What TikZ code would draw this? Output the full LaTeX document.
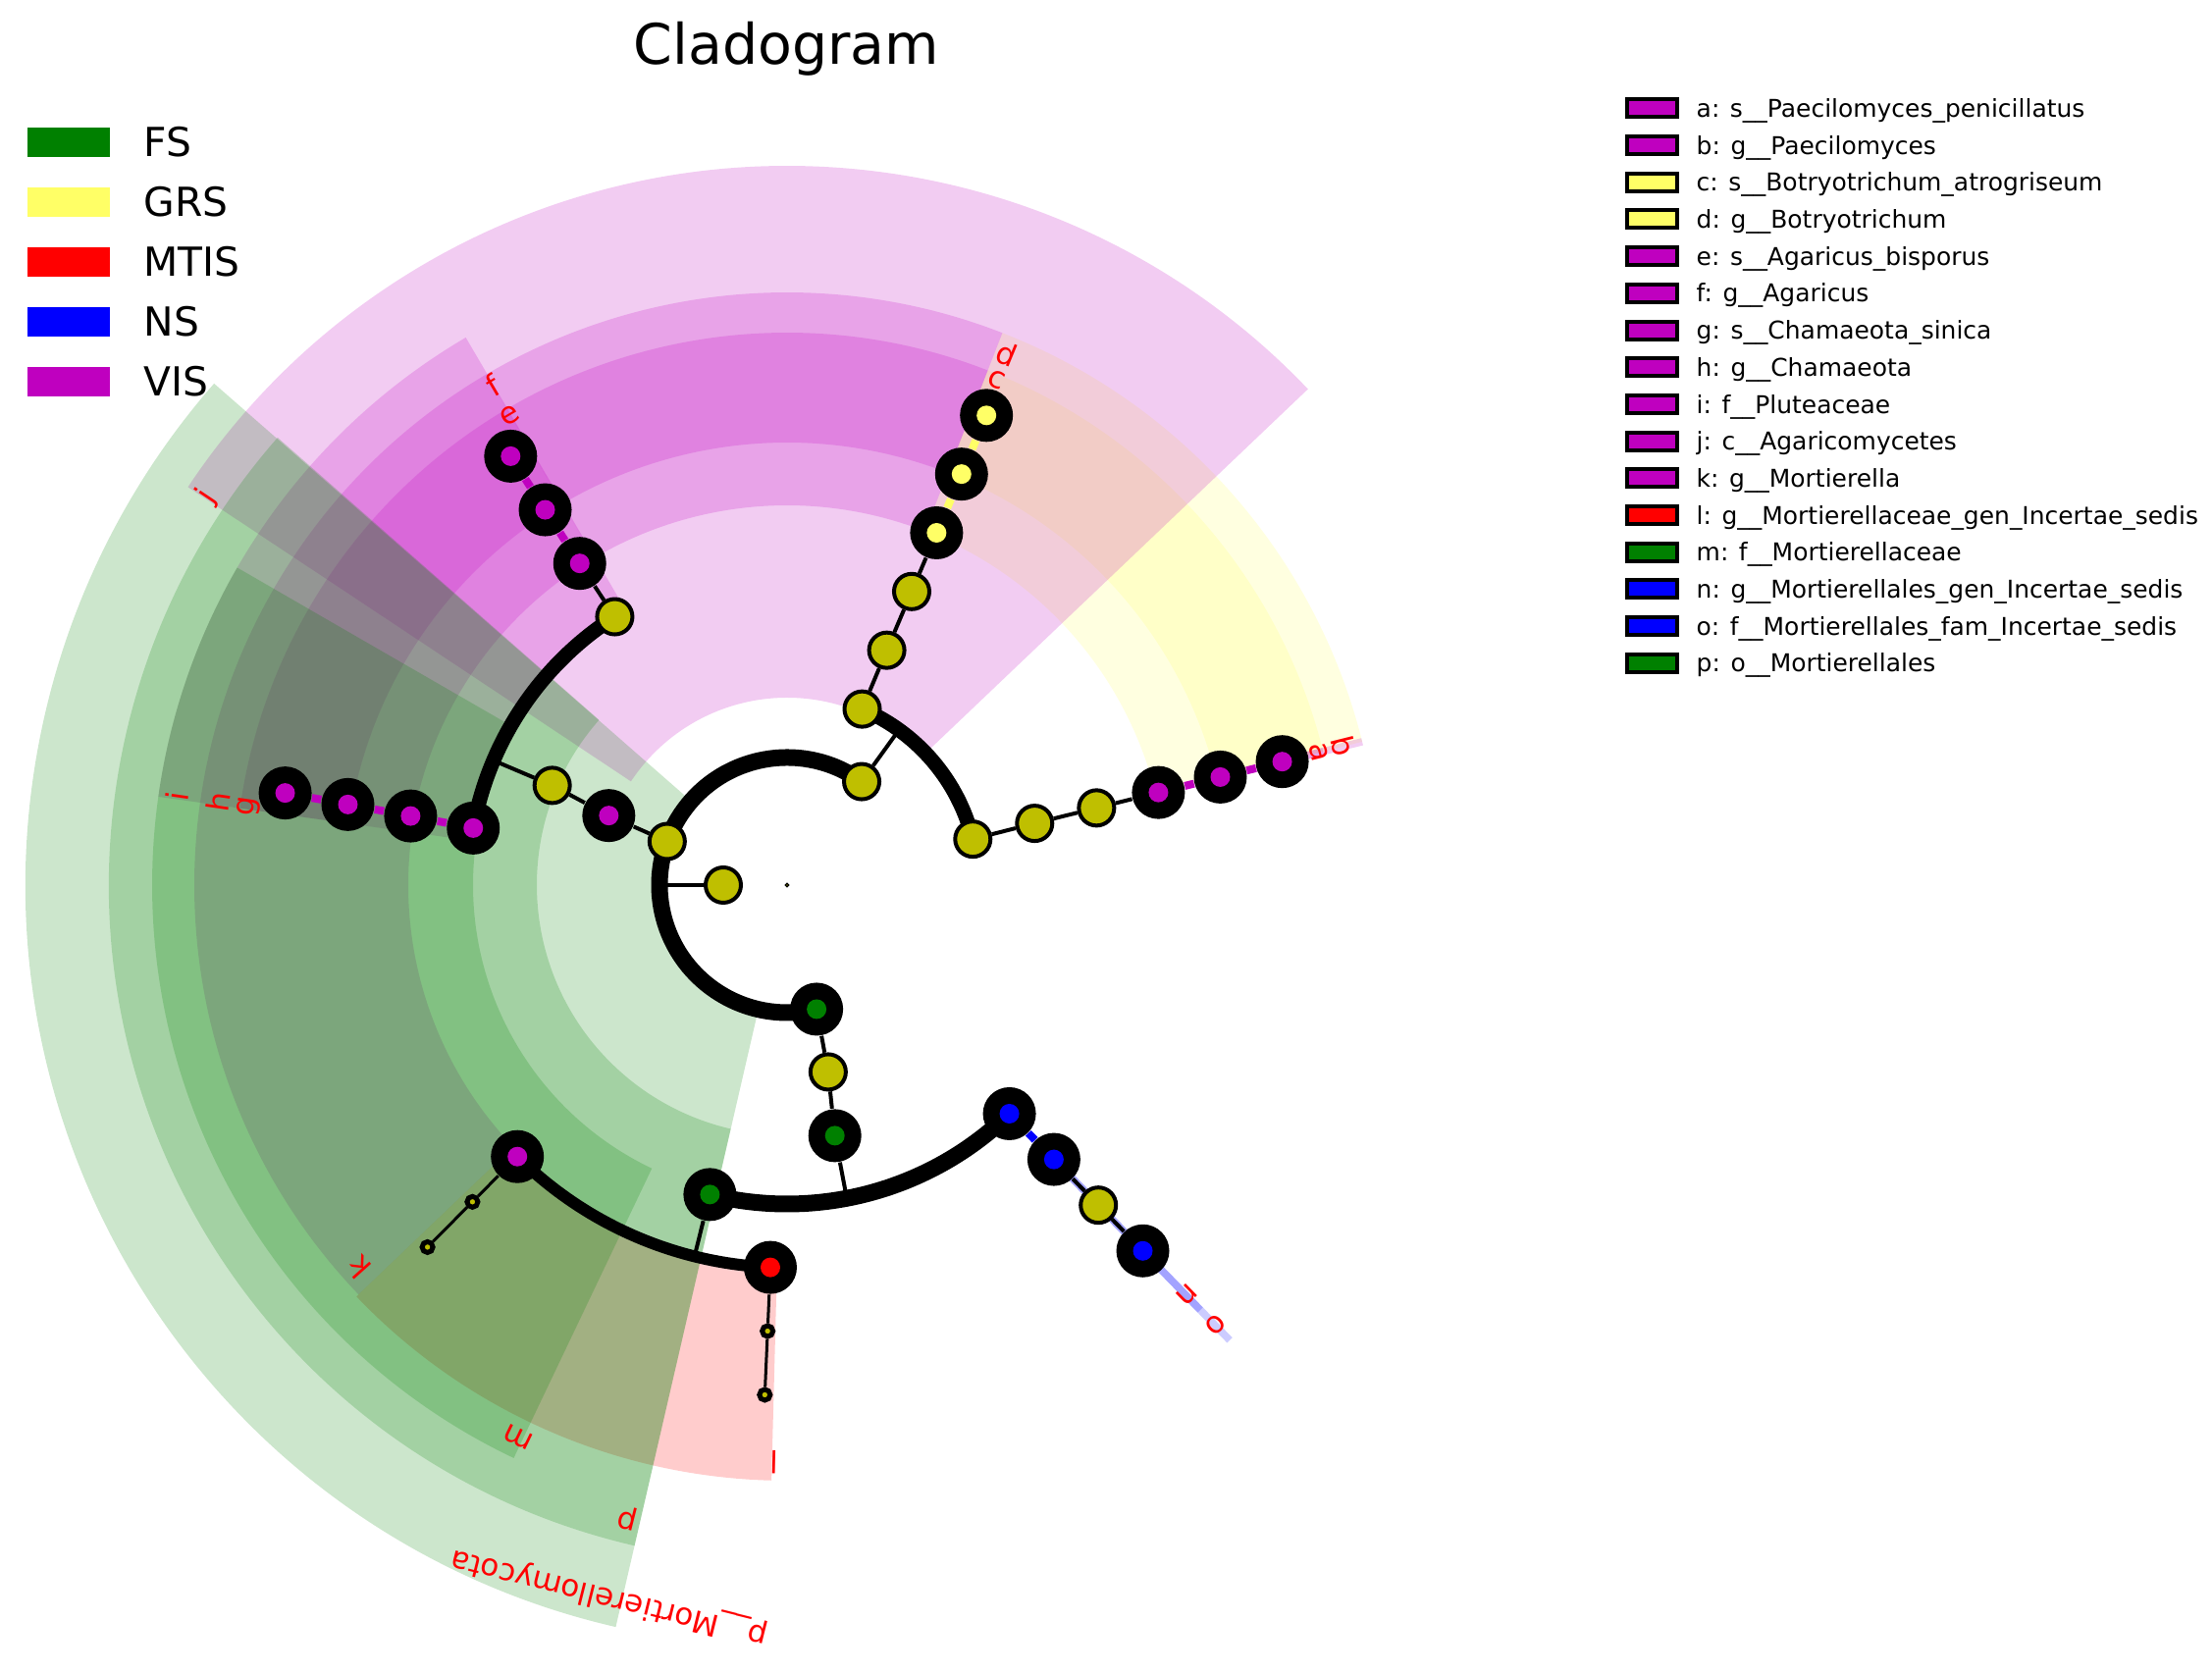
\documentclass[tikz,border=0pt]{standalone}
\usepackage{fontspec}
\setmainfont{DejaVu Sans}
\definecolor{FSc}{RGB}{0,128,0}
\definecolor{GRSc}{RGB}{255,255,102}
\definecolor{MTISc}{RGB}{255,0,0}
\definecolor{NSc}{RGB}{0,0,255}
\definecolor{VISc}{RGB}{191,0,191}
\definecolor{olivec}{RGB}{191,191,0}
\pgfdeclarelayer{wedges}
\pgfdeclarelayer{edges}
\pgfsetlayers{wedges,edges,main}
\newcommand{\cladewedge}[5]{%
  \fill[#5, fill opacity=0.2] (#1:#3) arc[start angle=#1, end angle=#2, radius=#3] -- (#2:#4) arc[start angle=#2, end angle=#1, radius=#4] -- cycle;}
\tikzset{
  plain/.style={circle, draw=black, fill=olivec, line width=0.04cm, minimum size=0.36cm, inner sep=0},
  hl/.style={circle, fill=black, minimum size=0.54cm, inner sep=0,
    path picture={\fill[#1] (path picture bounding box.center) circle (0.1cm);}},
  small/.style={circle, draw=black, fill=olivec, line width=0.05cm, minimum size=0.11cm, inner sep=0},
  rootdot/.style={circle, draw=black, fill=olivec, line width=0.012cm, minimum size=0.035cm, inner sep=0},
  thinedge/.style={line width=0.04cm, black},
  smalledge/.style={line width=0.03cm, black},
  coledge/.style={line width=0.08cm, #1},
  bigarc/.style={line width=#1, black},
  lab/.style={text=MTISc, inner sep=0, font=\fontsize{8.8}{10}\selectfont},
  narrow/.style={#1, draw opacity=0.2, line width=0.075cm}
}
\begin{document}
\begin{tikzpicture}
\useasboundingbox (0,0) rectangle (22.54,17.06);
% title
\node[anchor=base, inner sep=0, font=\fontsize{16.2}{19}\selectfont] (title) at (8.015,16.40) {Cladogram};
% left legend
\foreach \nm/\col [count=\i from 0] in {FS/FSc, GRS/GRSc, MTIS/MTISc, NS/NSc, VIS/VISc} {
  \node[fill=\col, minimum width=0.84cm, minimum height=0.30cm, inner sep=0] (lsw\i) at (0.70, {15.61-0.61*\i}) {};
  \node[anchor=base west, inner sep=0, font=\fontsize{11.6}{14}\selectfont] (ltx\i) at (1.46, {15.461-0.61*\i}) {\nm};
}
% right legend
\foreach \txt/\col [count=\i from 0] in {
  a: s\_\_Paecilomyces\_penicillatus/VISc,
  b: g\_\_Paecilomyces/VISc,
  c: s\_\_Botryotrichum\_atrogriseum/GRSc,
  d: g\_\_Botryotrichum/GRSc,
  e: s\_\_Agaricus\_bisporus/VISc,
  f: g\_\_Agaricus/VISc,
  g: s\_\_Chamaeota\_sinica/VISc,
  h: g\_\_Chamaeota/VISc,
  i: f\_\_Pluteaceae/VISc,
  j: c\_\_Agaricomycetes/VISc,
  k: g\_\_Mortierella/VISc,
  l: g\_\_Mortierellaceae\_gen\_Incertae\_sedis/MTISc,
  m: f\_\_Mortierellaceae/FSc,
  n: g\_\_Mortierellales\_gen\_Incertae\_sedis/NSc,
  o: f\_\_Mortierellales\_fam\_Incertae\_sedis/NSc,
  p: o\_\_Mortierellales/FSc} {
  \node[draw=black, line width=0.04cm, fill=\col, minimum width=0.51cm, minimum height=0.18cm, inner sep=0] (rsw\i) at (16.83, {15.956-0.377*\i}) {};
  \node[anchor=base west, inner sep=0, font=\fontsize{7.1}{9}\selectfont] (rtx\i) at (17.28, {15.865-0.377*\i}) {\txt};
}
\begin{scope}[shift={(8.02,8.04)}]
% ---------- wedges (yellow, magenta, red, blue first; green last) ----------
\begin{pgfonlayer}{wedges}
\cladewedge{14}{68.7}{3.87}{6.04}{GRSc}
\cladewedge{14}{68.7}{4.51}{5.63}{GRSc}
\cladewedge{43.6}{146.4}{1.91}{7.33}{VISc}
\cladewedge{120.4}{172}{3.20}{6.47}{VISc}
\cladewedge{120.5}{172}{3.87}{6.04}{VISc}
\cladewedge{120.5}{172}{4.51}{5.63}{VISc}
\cladewedge{68.7}{120.5}{3.87}{6.04}{VISc}
\cladewedge{68.7}{120.5}{4.51}{5.63}{VISc}
\cladewedge{172}{223.7}{3.86}{6.04}{VISc}
\draw[narrow=VISc] (14:3.87) -- (14:6.04);
\draw[narrow=VISc] (14:4.51) -- (14:5.63);
\cladewedge{223.7}{268.5}{3.88}{6.07}{MTISc}
\draw[narrow=NSc] (-45.8:3.20) -- (-45.8:6.47);
\draw[narrow=NSc] (-45.8:3.87) -- (-45.8:6.04);
\cladewedge{138.8}{257}{1.32}{7.76}{FSc}
\cladewedge{138.7}{257}{2.55}{6.91}{FSc}
\cladewedge{150}{244.5}{3.20}{6.47}{FSc}
\end{pgfonlayer}
% ---------- nodes ----------
\node[rootdot] (root) at (0,0) {};
\node[plain] (K) at (180:0.65) {};
\node[plain] (P1) at (160:1.30) {};
\node[plain] (P2) at (54.2:1.30) {};
\node[hl=FSc] (P3) at (-76.6:1.30) {};
% Ascomycota
\node[plain] (A1) at (66.9:1.95) {};
\node[plain] (A2) at (67:2.60) {};
\node[plain] (A3) at (67:3.25) {};
\node[hl=GRSc] (A4) at (67:3.90) {};
\node[hl=GRSc] (A5) at (67:4.55) {};
\node[hl=GRSc] (A6) at (67:5.20) {};
\node[plain] (B1) at (13.9:1.95) {};
\node[plain] (B2) at (14:2.60) {};
\node[plain] (B3) at (14:3.25) {};
\node[hl=VISc] (B4) at (14:3.90) {};
\node[hl=VISc] (B5) at (14:4.55) {};
\node[hl=VISc] (B6) at (14:5.20) {};
% Basidiomycota
\node[hl=VISc] (J) at (158.7:1.95) {};
\node[plain] (O1) at (157:2.60) {};
\node[plain] (F1) at (122.7:3.25) {};
\node[hl=VISc] (E1) at (122.8:3.90) {};
\node[hl=VISc] (E2) at (122.8:4.55) {};
\node[hl=VISc] (E3) at (122.8:5.20) {};
\node[hl=VISc] (I1) at (169.7:3.25) {};
\node[hl=VISc] (G1) at (169.6:3.90) {};
\node[hl=VISc] (G2) at (169.6:4.55) {};
\node[hl=VISc] (G3) at (169.6:5.20) {};
% Mortierellomycota
\node[plain] (C3) at (-77.6:1.95) {};
\node[hl=FSc] (Pp) at (-79.2:2.60) {};
\node[hl=FSc] (Mm) at (-104:3.25) {};
\node[hl=NSc] (Oo) at (-45.8:3.25) {};
\node[hl=VISc] (Kk) at (-134.8:3.90) {};
\node[hl=MTISc] (Ll) at (-92.5:3.90) {};
\node[small] (K2) at (-134.8:4.55) {};
\node[small] (K3) at (-134.8:5.20) {};
\node[small] (L2) at (-92.5:4.55) {};
\node[small] (L3) at (-92.5:5.20) {};
\node[hl=NSc] (Nn) at (-45.8:3.90) {};
\node[plain] (N2) at (-45.8:4.55) {};
\node[hl=NSc] (N3) at (-45.8:5.20) {};
% free ends of radial connectors
\coordinate (kend) at (180:1.30);
\coordinate (p2end) at (54.2:1.95);
\coordinate (o1end) at (157:3.25);
\coordinate (ppend) at (-79.2:3.25);
\coordinate (mmend) at (-104:3.90);
% ---------- edges ----------
\begin{pgfonlayer}{edges}
\draw[thinedge] (K) -- (kend);
\draw[bigarc=0.17cm] (54.2:1.30) arc[start angle=54.2, end angle=283.4, radius=1.30];
\draw[thinedge] (P2) -- (p2end);
\draw[bigarc=0.15cm] (13.9:1.95) arc[start angle=13.9, end angle=66.9, radius=1.95];
\draw[thinedge] (A1) -- (A2);
\draw[thinedge] (A2) -- (A3);
\draw[thinedge] (A3) -- (A4);
\draw[coledge=GRSc] (A4) -- (A5);
\draw[coledge=GRSc] (A5) -- (A6);
\draw[thinedge] (B1) -- (B2);
\draw[thinedge] (B2) -- (B3);
\draw[thinedge] (B3) -- (B4);
\draw[coledge=VISc] (B4) -- (B5);
\draw[coledge=VISc] (B5) -- (B6);
\draw[thinedge] (P1) -- (J);
\draw[thinedge] (J) -- (O1);
\draw[thinedge] (O1) -- (o1end);
\draw[bigarc=0.15cm] (122.7:3.25) arc[start angle=122.7, end angle=169.7, radius=3.25];
\draw[thinedge] (F1) -- (E1);
\draw[coledge=VISc] (E1) -- (E2);
\draw[coledge=VISc] (E2) -- (E3);
\draw[coledge=VISc] (I1) -- (G1);
\draw[coledge=VISc] (G1) -- (G2);
\draw[coledge=VISc] (G2) -- (G3);
\draw[thinedge] (P3) -- (C3);
\draw[thinedge] (C3) -- (Pp);
\draw[thinedge] (Pp) -- (ppend);
\draw[bigarc=0.17cm] (-104:3.25) arc[start angle=-104, end angle=-45.8, radius=3.25];
\draw[thinedge] (Mm) -- (mmend);
\draw[bigarc=0.12cm] (-134.8:3.90) arc[start angle=-134.8, end angle=-92.5, radius=3.90];
\draw[smalledge] (Kk) -- (K2);
\draw[smalledge] (K2) -- (K3);
\draw[smalledge] (Ll) -- (L2);
\draw[smalledge] (L2) -- (L3);
\draw[coledge=NSc] (Oo) -- (Nn);
\draw[thinedge] (Nn) -- (N2);
\draw[thinedge] (N2) -- (N3);
\end{pgfonlayer}
% ---------- labels ----------
\node[lab, rotate=-76] (la) at (14:5.59) {a};
\node[lab, rotate=-76] (lb) at (14:5.84) {b};
\node[lab, rotate=-22.5] (lc) at (67.5:5.57) {c};
\node[lab, rotate=-22.5] (ld) at (67.5:5.86) {d};
\node[lab, rotate=30.5] (le) at (120.5:5.56) {e};
\node[lab, rotate=30.5] (lf) at (120.5:5.915) {f};
\node[lab, rotate=81.7] (lg) at (171.7:5.545) {g};
\node[lab, rotate=81.7] (lh) at (171.7:5.86) {h};
\node[lab, rotate=81.7] (li) at (171.7:6.285) {i};
\node[lab, rotate=56.2] (lj) at (146.2:7.11) {j};
\node[lab, rotate=-228.2] (lk) at (-138.2:5.85) {k};
\node[lab, rotate=-181.3] (ll) at (-91.3:5.88) {l};
\node[lab, rotate=-205.9] (lm) at (-115.9:6.26) {m};
\node[lab, rotate=-135.7] (ln) at (-45.7:5.83) {n};
\node[lab, rotate=-135.8] (lo) at (-45.8:6.256) {o};
\node[lab, rotate=-194.1] (lp) at (-104.1:6.65) {p};
\node[lab, rotate=-194] (lpM) at (-104:7.48) {p\_\_Mortierellomycota};
\end{scope}
\end{tikzpicture}
\end{document}
